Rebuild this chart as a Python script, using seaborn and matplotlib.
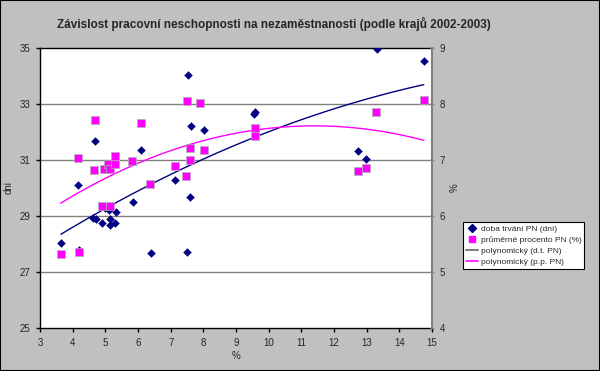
import numpy as np
import pandas as pd
import seaborn as sns
from matplotlib import pyplot as plt
from matplotlib.lines import Line2D

# nezaměstnanost (%) a doba trvání PN (dní) – levá osa
nezam_dt = [3.64, 4.16, 4.19, 4.68, 4.63, 4.70, 4.90, 5.10, 5.15, 5.14,
            5.31, 5.32, 5.84, 6.39, 7.49, 7.60, 7.14, 6.09, 7.52, 7.61,
            8.03, 9.58, 9.56, 13.32, 14.75, 12.74, 12.99, 5.00]
doba_pn = [28.04, 30.11, 27.80, 31.68, 28.92, 28.90, 28.74, 29.21, 28.89, 28.67,
           28.74, 29.14, 29.51, 27.68, 27.71, 29.68, 30.29, 31.36, 34.04, 32.21,
           32.07, 32.72, 32.64, 34.96, 34.54, 31.32, 31.05, 29.30]

# nezaměstnanost (%) a průměrné procento PN (%) – pravá osa
nezam_pp = [4.15, 4.68, 4.64, 4.96, 5.09, 5.14, 5.30, 5.31, 5.83, 6.09,
            6.38, 7.14, 7.48, 7.51, 7.90, 7.60, 7.59, 8.02, 4.90, 5.13,
            3.63, 4.18, 9.57, 9.59, 13.30, 14.75, 12.74, 12.99]
proc_pn = [7.03, 7.71, 6.83, 6.84, 6.92, 6.84, 6.92, 7.08, 6.98, 7.66,
           6.57, 6.89, 6.72, 8.05, 8.01, 7.22, 7.00, 7.17, 6.17, 6.18,
           5.32, 5.36, 7.58, 7.42, 7.86, 8.07, 6.80, 6.86]

df_dt = pd.DataFrame({'x': nezam_dt, 'y': doba_pn})
df_pp = pd.DataFrame({'x': nezam_pp, 'y': proc_pn})

sns.set_style('white')
plt.rcParams['font.family'] = ['Liberation Sans', 'DejaVu Sans']

modra = '#000080'
ruzova = '#FF00FF'

fig = plt.figure(figsize=(6, 3.71), dpi=100, facecolor='#C0C0C0')
fig.patches.append(plt.Rectangle((0, 0), 1, 1, transform=fig.transFigure,
                                 fill=False, edgecolor='black', lw=1.5))
ax = fig.add_axes([0.0667, 0.1159, 0.6533, 0.7547])
ax.set_facecolor('white')
ax2 = ax.twinx()

# levá osa
sns.scatterplot(data=df_dt, x='x', y='y', ax=ax, marker='D', s=16,
                color=modra, edgecolor=modra, zorder=3)
sns.regplot(data=df_dt, x='x', y='y', ax=ax, order=2, ci=None,
            scatter=False, line_kws={'color': modra, 'lw': 1})

# pravá osa
sns.scatterplot(data=df_pp, x='x', y='y', ax=ax2, marker='s', s=26,
                color=ruzova, edgecolor='#B0B0B0', linewidth=0.5, zorder=3)
sns.regplot(data=df_pp, x='x', y='y', ax=ax2, order=2, ci=None,
            scatter=False, line_kws={'color': ruzova, 'lw': 1})

ax.set_xlim(3, 15)
ax.set_ylim(25, 35)
ax2.set_ylim(4, 9)
ax.set_xticks(range(3, 16))
ax.set_yticks(range(25, 36, 2))
ax2.set_yticks(range(4, 10))

for y in [27, 29, 31, 33]:
    ax.axhline(y, color='#808080', lw=1, zorder=0)

ax.set_xlabel('%', fontsize=7, labelpad=2)
ax.set_ylabel('dni', fontsize=7, labelpad=4)
ax2.set_ylabel('%', fontsize=7, labelpad=3)

ax.tick_params(axis='both', labelsize=7, length=3, width=1, color='black',
               direction='out', left=True, bottom=True, pad=4)
ax2.tick_params(axis='y', labelsize=7, length=3, width=1, color='#808080',
                direction='inout', right=True, pad=4)

for s in ['left', 'bottom', 'top']:
    ax.spines[s].set_color('black')
    ax.spines[s].set_linewidth(1)
ax.spines['right'].set_visible(False)
for s in ['left', 'bottom', 'top']:
    ax2.spines[s].set_visible(False)
ax2.spines['right'].set_color('#808080')
ax2.spines['right'].set_linewidth(1.5)

fig.suptitle('Závislost pracovní neschopnosti na nezaměstnanosti (podle krajů 2002-2003)',
             x=0.457, y=0.955, fontsize=8.5, fontweight='bold')

handles = [
    Line2D([], [], marker='D', color=modra, ls='none', markersize=4),
    Line2D([], [], marker='s', color=ruzova, ls='none', markersize=5),
    Line2D([], [], color='#808080', lw=1.5),
    Line2D([], [], color=ruzova, lw=1.2),
]
labels = ['doba trvání PN (dní)', 'průměrné procento PN (%)',
          'polynomický (d.t. PN)', 'polynomický (p.p. PN)']
leg = fig.legend(handles, labels, loc='upper left',
                 bbox_to_anchor=(0.771, 0.402), fontsize=6, frameon=True,
                 fancybox=False, edgecolor='black', framealpha=1,
                 handlelength=1.5, handletextpad=0.3, borderpad=0.35,
                 labelspacing=0.4, borderaxespad=0)
leg.get_frame().set_linewidth(0.8)

fig.savefig('out.png', dpi=100, facecolor=fig.get_facecolor())
